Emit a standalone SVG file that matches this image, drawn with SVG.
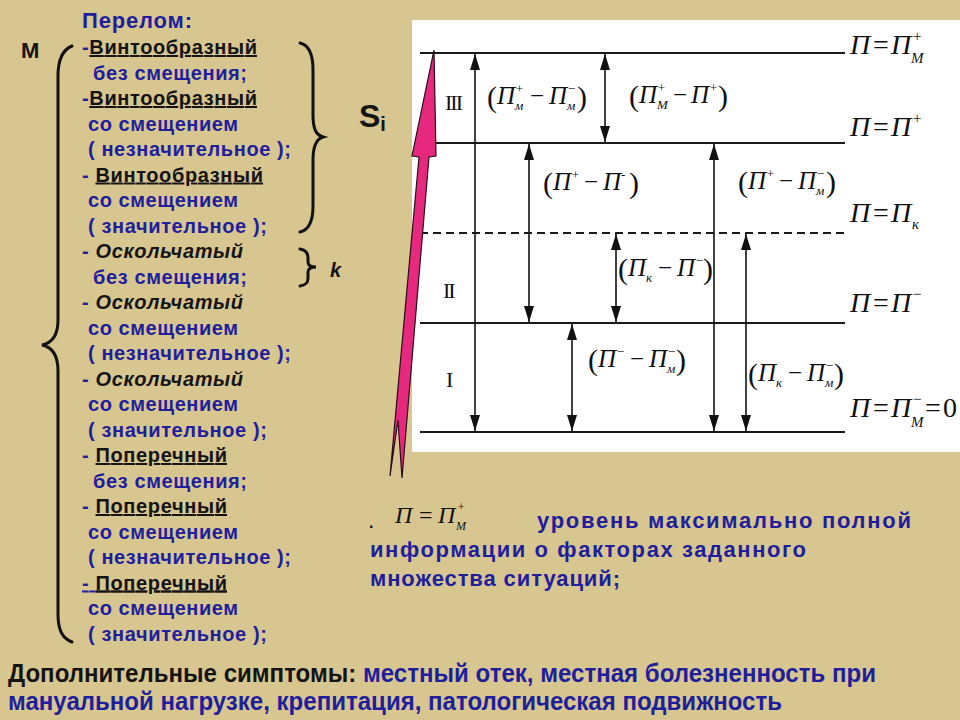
<svg xmlns="http://www.w3.org/2000/svg" width="960" height="720" viewBox="0 0 960 720">
<style>
.t{font-family:"Liberation Sans",Arial,sans-serif;font-weight:bold;font-size:20px;fill:#1f1f9c}
.k{fill:#141414}
.it{font-style:italic}
.u{text-decoration:underline}
.m{font-family:"Liberation Serif","Times New Roman",serif;font-style:italic;font-size:25px;fill:#111}
.p{font-family:"Liberation Serif","Times New Roman",serif;font-style:normal;font-size:30px;fill:#111}
.s{font-size:13px}
.rl{font-family:"Liberation Serif","Times New Roman",serif;font-style:italic;font-size:28px;fill:#111}
.rs{font-size:15px}
.rom{font-family:"Liberation Serif","Times New Roman",serif;font-size:22px;fill:#111;letter-spacing:-2px}
.hl{stroke:#1a1a1a;stroke-width:2;fill:none}
.va{stroke:#111;stroke-width:1.6;fill:none;marker-start:url(#ah);marker-end:url(#ah)}
.br{stroke:#111;stroke-width:3;fill:none;stroke-linecap:round}
.para{font-size:22px}
.foot{font-size:25px}
</style>
<defs>
<marker id="ah" viewBox="0 0 16 10" refX="16" refY="5" markerWidth="16" markerHeight="10" markerUnits="userSpaceOnUse" orient="auto-start-reverse">
<path d="M0,0 L16,5 L0,10 z" fill="#111"/>
</marker>
</defs>
<rect x="0" y="0" width="960" height="720" fill="#d8c690"/>
<rect id="panel" x="412" y="20" width="548" height="432" fill="#ffffff"/>

<g id="levels">
<line class="hl" x1="420" y1="53" x2="845" y2="53"/>
<line class="hl" x1="420" y1="143" x2="845" y2="143"/>
<line class="hl" x1="420" y1="233" x2="845" y2="233" stroke-dasharray="8,5"/>
<line class="hl" x1="420" y1="323" x2="845" y2="323"/>
<line class="hl" x1="420" y1="432" x2="845" y2="432"/>
</g>

<g id="connectors">
<line class="va" x1="475" y1="54" x2="475" y2="431"/>
<line class="va" x1="529" y1="144" x2="529" y2="322"/>
<line class="va" x1="605" y1="54" x2="605" y2="142"/>
<line class="va" x1="616" y1="234" x2="616" y2="322"/>
<line class="va" x1="572" y1="324" x2="572" y2="431"/>
<line class="va" x1="714" y1="144" x2="714" y2="431"/>
<line class="va" x1="746" y1="234" x2="746" y2="431"/>
</g>

<g id="roman">
<text class="rom" x="445" y="110">III</text>
<text class="rom" x="443" y="298">II</text>
<text class="rom" x="446" y="387">I</text>
</g>

<g id="inner-labels">
<text class="m" y="104"><tspan class="p" x="487" y="107">(</tspan><tspan x="497" y="104">П</tspan><tspan class="s" x="515" y="93">+</tspan><tspan class="s" x="515" y="110">м</tspan><tspan x="530" y="104" font-style="normal">−</tspan><tspan x="549" y="104">П</tspan><tspan class="s" x="567" y="93">−</tspan><tspan class="s" x="567" y="110">м</tspan><tspan class="p" x="577" y="107">)</tspan></text>
<text class="m" y="103"><tspan class="p" x="629" y="106">(</tspan><tspan x="639" y="103">П</tspan><tspan class="s" x="657" y="92">+</tspan><tspan class="s" x="657" y="109">М</tspan><tspan x="673" y="103" font-style="normal">−</tspan><tspan x="691" y="103">П</tspan><tspan class="s" x="709" y="92">+</tspan><tspan class="p" x="718" y="106">)</tspan></text>
<text class="m" y="190"><tspan class="p" x="543" y="193">(</tspan><tspan x="553" y="190">П</tspan><tspan class="s" x="571" y="179">+</tspan><tspan x="584" y="190" font-style="normal">−</tspan><tspan x="603" y="190">П</tspan><tspan class="s" x="621" y="179">-</tspan><tspan class="p" x="629" y="193">)</tspan></text>
<text class="m" y="189"><tspan class="p" x="738" y="192">(</tspan><tspan x="748" y="189">П</tspan><tspan class="s" x="766" y="178">+</tspan><tspan x="779" y="189" font-style="normal">−</tspan><tspan x="798" y="189">П</tspan><tspan class="s" x="816" y="178">−</tspan><tspan class="s" x="816" y="195">м</tspan><tspan class="p" x="826" y="192">)</tspan></text>
<text class="m" y="276"><tspan class="p" x="618" y="279">(</tspan><tspan x="628" y="276">П</tspan><tspan class="s" x="646" y="282">к</tspan><tspan x="658" y="276" font-style="normal">−</tspan><tspan x="677" y="276">П</tspan><tspan class="s" x="695" y="265">−</tspan><tspan class="p" x="703" y="279">)</tspan></text>
<text class="m" y="367"><tspan class="p" x="588" y="370">(</tspan><tspan x="598" y="367">П</tspan><tspan class="s" x="616" y="356">−</tspan><tspan x="630" y="367" font-style="normal">−</tspan><tspan x="649" y="367">П</tspan><tspan class="s" x="667" y="356">−</tspan><tspan class="s" x="667" y="373">м</tspan><tspan class="p" x="676" y="370">)</tspan></text>
<text class="m" y="381"><tspan class="p" x="748" y="384">(</tspan><tspan x="758" y="381">П</tspan><tspan class="s" x="776" y="387">к</tspan><tspan x="788" y="381" font-style="normal">−</tspan><tspan x="807" y="381">П</tspan><tspan class="s" x="825" y="370">−</tspan><tspan class="s" x="825" y="387">м</tspan><tspan class="p" x="834" y="384">)</tspan></text>
</g>

<g id="right-labels">
<text class="rl" y="54"><tspan x="850">П</tspan><tspan x="873" font-style="normal">=</tspan><tspan x="891">П</tspan><tspan class="rs" x="912" y="41">+</tspan><tspan class="rs" x="911" y="63">М</tspan></text>
<text class="rl" y="136"><tspan x="850">П</tspan><tspan x="873" font-style="normal">=</tspan><tspan x="891">П</tspan><tspan class="rs" x="912" y="123">+</tspan></text>
<text class="rl" y="222"><tspan x="850">П</tspan><tspan x="873" font-style="normal">=</tspan><tspan x="891">П</tspan><tspan class="rs" x="912" y="229">к</tspan></text>
<text class="rl" y="312"><tspan x="850">П</tspan><tspan x="873" font-style="normal">=</tspan><tspan x="891">П</tspan><tspan class="rs" x="912" y="299">−</tspan></text>
<text class="rl" y="417"><tspan x="850">П</tspan><tspan x="873" font-style="normal">=</tspan><tspan x="891">П</tspan><tspan class="rs" x="912" y="404">−</tspan><tspan class="rs" x="911" y="427">М</tspan><tspan x="925" y="417" font-style="normal">=</tspan><tspan x="943" y="417" font-style="normal">0</tspan></text>
</g>

<g id="pink-arrow">
<polygon points="434,50 436,156 429,157 402,478 398,420 390,476 419,157 412,156" fill="#e6297f" stroke="#2a0c18" stroke-width="1.2" stroke-linejoin="miter"/>
</g>

<g id="brace-M">
<path class="br" d="M72,46 C62,50 58,60 58,76 L58,320 C58,336 52,343 42,345 C52,347 58,355 58,371 L58,614 C58,630 62,638 72,642"/>
<text class="t k" x="21" y="58" style="font-size:22px">М</text>
</g>

<g id="brace-S">
<path class="br" d="M300,43 C309,45 313,55 313,70 L313,115 C313,129 316,135 323,137 C316,139 313,146 313,160 L313,206 C313,222 309,230 300,232"/>
<text class="t k" x="359" y="127" style="font-size:32px">S<tspan style="font-size:20px" dy="4">i</tspan></text>
</g>

<g id="brace-k">
<path class="br" d="M300,249 C306,250 308,253 308,258 L308,262 C308,265 311,267 316,267 C311,267 308,269 308,272 L308,278 C308,283 306,285 300,286"/>
<text class="t k it" x="330" y="277" style="font-size:20px">k</text>
</g>

<g id="list">
<text class="t" x="82" y="28" style="font-size:22px" textLength="110" lengthAdjust="spacing">Перелом:</text>
<text class="t" x="82" y="54" textLength="175" lengthAdjust="spacing">-<tspan class="k u">Винтообразный</tspan></text>
<text class="t" x="93" y="79.5" textLength="154" lengthAdjust="spacing">без смещения;</text>
<text class="t" x="82" y="105" textLength="175" lengthAdjust="spacing">-<tspan class="k u">Винтообразный</tspan></text>
<text class="t" x="88" y="130.5" textLength="150" lengthAdjust="spacing">со смещением</text>
<text class="t" x="88" y="156" textLength="203" lengthAdjust="spacing">( незначительное );</text>
<text class="t" x="82" y="181.5" textLength="181" lengthAdjust="spacing">- <tspan class="k u">Винтообразный</tspan></text>
<text class="t" x="88" y="207" textLength="150" lengthAdjust="spacing">со смещением</text>
<text class="t" x="88" y="232.5" textLength="179" lengthAdjust="spacing">( значительное );</text>
<text class="t" x="82" y="258" textLength="161" lengthAdjust="spacing">- <tspan class="k it">Оскольчатый</tspan></text>
<text class="t" x="93" y="283.5" textLength="154" lengthAdjust="spacing">без смещения;</text>
<text class="t" x="82" y="309" textLength="161" lengthAdjust="spacing">- <tspan class="k it">Оскольчатый</tspan></text>
<text class="t" x="88" y="334.5" textLength="150" lengthAdjust="spacing">со смещением</text>
<text class="t" x="88" y="360" textLength="203" lengthAdjust="spacing">( незначительное );</text>
<text class="t" x="82" y="385.5" textLength="161" lengthAdjust="spacing">- <tspan class="k it">Оскольчатый</tspan></text>
<text class="t" x="88" y="411" textLength="150" lengthAdjust="spacing">со смещением</text>
<text class="t" x="88" y="436.5" textLength="179" lengthAdjust="spacing">( значительное );</text>
<text class="t" x="82" y="462" textLength="145" lengthAdjust="spacing">- <tspan class="k u">Поперечный</tspan></text>
<text class="t" x="93" y="487.5" textLength="154" lengthAdjust="spacing">без смещения;</text>
<text class="t" x="82" y="513" textLength="145" lengthAdjust="spacing">- <tspan class="k u">Поперечный</tspan></text>
<text class="t" x="88" y="538.5" textLength="150" lengthAdjust="spacing">со смещением</text>
<text class="t" x="88" y="564" textLength="203" lengthAdjust="spacing">( незначительное );</text>
<text class="t u" x="82" y="589.5" textLength="145" lengthAdjust="spacing">- <tspan class="k u">Поперечный</tspan></text>
<text class="t" x="88" y="615" textLength="150" lengthAdjust="spacing">со смещением</text>
<text class="t" x="88" y="640.5" textLength="179" lengthAdjust="spacing">( значительное );</text>
</g>

<g id="definition">
<text class="t k" x="369" y="528" style="font-size:16px">.</text>
<text class="rl" y="523" style="font-size:24px"><tspan x="395">П</tspan><tspan x="419" font-style="normal">=</tspan><tspan x="438">П</tspan><tspan style="font-size:12px" x="457" y="511">+</tspan><tspan style="font-size:12px" x="456" y="530">М</tspan></text>
<text class="t para" x="537" y="528" textLength="374" lengthAdjust="spacing">уровень  максимально  полной</text>
<text class="t para" x="370" y="557" textLength="436" lengthAdjust="spacing">информации  о  факторах заданного</text>
<text class="t para" x="370" y="586" textLength="250" lengthAdjust="spacing">множества ситуаций;</text>
</g>

<g id="footer">
<text class="t foot" x="8" y="682" textLength="868" lengthAdjust="spacingAndGlyphs"><tspan class="k">Дополнительные симптомы: </tspan>местный отек, местная болезненность при</text>
<text class="t foot" x="8" y="710" textLength="774" lengthAdjust="spacingAndGlyphs">мануальной нагрузке, крепитация, патологическая подвижность</text>
</g>
</svg>
